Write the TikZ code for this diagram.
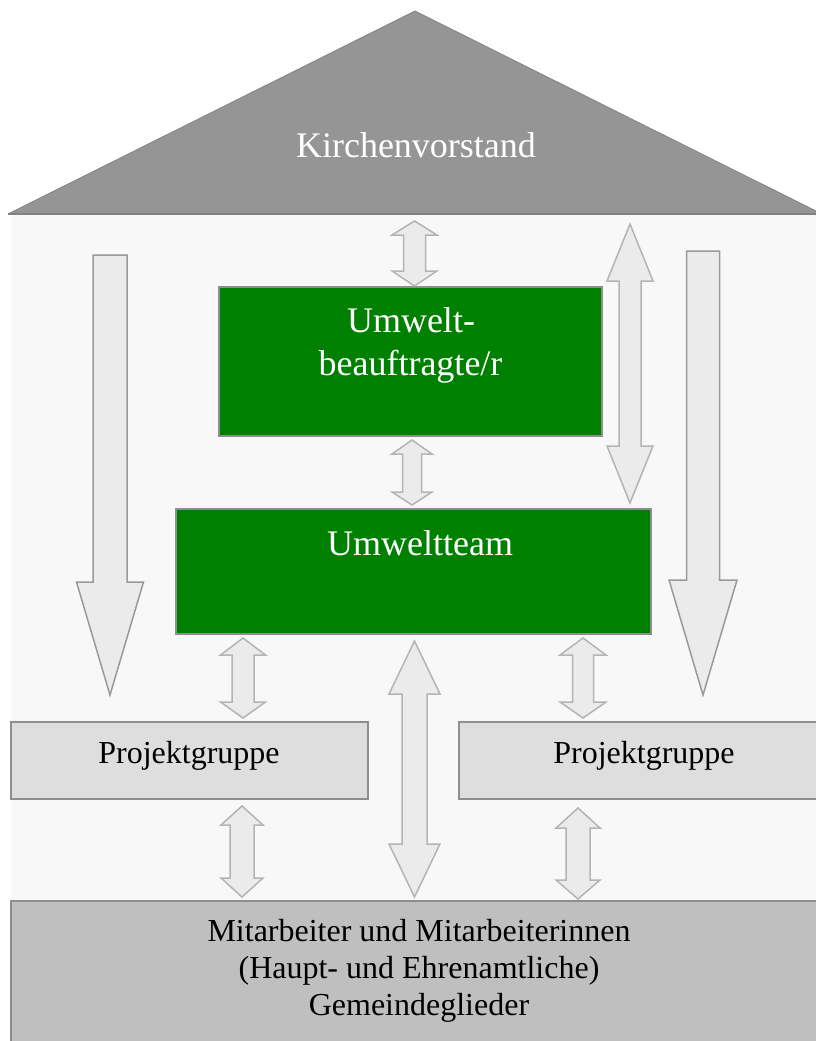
\documentclass[tikz,border=0pt]{standalone}
\usepackage{fontspec}
\setmainfont{Liberation Serif}
\definecolor{roofgray}{HTML}{959595}
\definecolor{roofedge}{HTML}{828282}
\definecolor{bglight}{HTML}{F8F8F8}
\definecolor{boxgreen}{HTML}{008000}
\definecolor{boxedge}{HTML}{8E8E8E}
\definecolor{pgfill}{HTML}{DEDEDE}
\definecolor{basefill}{HTML}{BFBFBF}
\definecolor{arrfill}{HTML}{EBEBEB}
\definecolor{arredge}{HTML}{B4B4B4}
\definecolor{downedge}{HTML}{9A9A9A}
\tikzset{
  greenbox/.style={draw=boxedge, line width=1.5pt, fill=boxgreen, inner sep=0pt},
  pgbox/.style={draw=boxedge, line width=1.5pt, fill=pgfill, inner sep=0pt},
  basebox/.style={draw=boxedge, line width=1.5pt, fill=basefill, inner sep=0pt},
  bigtxt/.style={font=\fontsize{36}{43}\selectfont, inner sep=0pt, anchor=base},
  midtxt/.style={font=\fontsize{32}{37}\selectfont, inner sep=0pt, anchor=base},
  dblarrow/.style={draw=arredge, line width=1.5pt, fill=arrfill, line join=miter},
  downarrow/.style={draw=downedge, line width=1.5pt, fill=arrfill, line join=miter}
}
% double arrow: cx, top tip, top head base, bottom head base, bottom tip, shaft half, head half
\newcommand{\mydblarr}[7]{%
  \draw[dblarrow] (#1,#2) -- (#1+#7,#3) -- (#1+#6,#3) -- (#1+#6,#4) -- (#1+#7,#4)
    -- (#1,#5) -- (#1-#7,#4) -- (#1-#6,#4) -- (#1-#6,#3) -- (#1-#7,#3) -- cycle;}
% down arrow: cx, top, head base, tip, shaft half, head half
\newcommand{\mydownarr}[6]{%
  \draw[downarrow] (#1-#5,#2) -- (#1+#5,#2) -- (#1+#5,#3) -- (#1+#6,#3) -- (#1,#4)
    -- (#1-#6,#3) -- (#1-#5,#3) -- cycle;}
\begin{document}
\begin{tikzpicture}[x=1pt, y=-1pt]
\useasboundingbox (0,0) rectangle (816,1041);
\clip (0,0) rectangle (816,1041);
% background of house body
\fill[bglight] (11,215) rectangle (835,1050);
% roof
\coordinate (apex) at (415,11);
\coordinate (roofL) at (8,214);
\coordinate (roofR) at (822,214);
\fill[roofgray] (roofL) -- (apex) -- (roofR) -- cycle;
\draw[roofedge, line width=0.8pt] (roofL) -- (apex) -- (roofR);
\draw[roofedge, line width=2.5pt] (roofL) -- (roofR);
\node[bigtxt, text=white] (kv) at (416,157) {Kirchenvorstand};
% green boxes
\node[greenbox, minimum width=383, minimum height=149] (ub) at (410.5,361.5) {};
\node[bigtxt, text=white] (ubt1) at (411,332) {Umwelt-};
\node[bigtxt, text=white] (ubt2) at (410.5,375) {beauftragte/r};
\node[greenbox, minimum width=475, minimum height=125] (ut) at (413.5,571.5) {};
\node[bigtxt, text=white] (utt) at (420,555) {Umweltteam};
% project groups
\node[pgbox, minimum width=357, minimum height=77] (pgl) at (189.5,760.5) {};
\node[midtxt] (pglt) at (189,763) {Projektgruppe};
\node[pgbox, minimum width=371, minimum height=77] (pgr) at (644.5,760.5) {};
\node[midtxt] (pgrt) at (644,763) {Projektgruppe};
% base box
\node[basebox, minimum width=819, minimum height=150] (base) at (420.5,976) {};
\node[midtxt] (bt1) at (419,941) {Mitarbeiter und Mitarbeiterinnen};
\node[midtxt] (bt2) at (419,978) {(Haupt- und Ehrenamtliche)};
\node[midtxt] (bt3) at (419,1015) {Gemeindeglieder};
% arrows
\mydblarr{414.5}{221}{235}{271}{286}{11}{22.5}
\mydblarr{412}{440}{454}{492}{505}{9.5}{20}
\mydblarr{630}{224}{281}{446}{503}{11}{23}
\mydblarr{243}{638}{655}{702}{718}{11}{22.5}
\mydblarr{583}{638}{655}{702}{718}{10.5}{23}
\mydblarr{414.5}{641}{694}{844}{897}{12.5}{25.5}
\mydblarr{242}{806}{825}{878}{897}{12}{21}
\mydblarr{578}{808}{828}{880}{899}{12}{22}
\mydownarr{110}{255}{582}{695}{17}{33.5}
\mydownarr{703}{251}{580}{695}{16.5}{34}
\end{tikzpicture}
\end{document}
